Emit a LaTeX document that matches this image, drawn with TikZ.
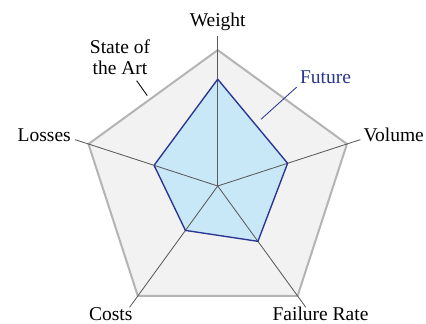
\documentclass[tikz,border=0pt]{standalone}
\usepackage{fontspec}
\setmainfont{Liberation Serif}
\definecolor{artgray}{HTML}{B4B4B4}
\definecolor{artfill}{HTML}{F2F2F2}
\definecolor{axisgray}{HTML}{5A5A5A}
\definecolor{futureblue}{HTML}{2B3592}
\definecolor{futurefill}{HTML}{C8E8F8}

\tikzstyle{artzone} = [draw=artgray, fill=artfill, line width=1.9pt]
\tikzstyle{futurezone} = [draw=futureblue, line width=1.3pt, line join=round]
\tikzstyle{axis} = [draw=axisgray, line width=.8pt]
\tikzstyle{axislabel} = [font=\fontsize{18.5}{19.5}\selectfont, inner sep=0pt,
    anchor=base]

\begin{document}
\begin{tikzpicture}
	\useasboundingbox (-7.257,-4.6) rectangle (6.943,6.2);
	\coordinate (o) at (0,0);
	% state of the art
	\coordinate (aw) at (90:4.53);
	\coordinate (av) at (18:4.53);
	\coordinate (af) at (-54:4.53);
	\coordinate (ac) at (-126:4.53);
	\coordinate (al) at (162:4.53);
	\draw [artzone] (aw) -- (av) -- (af) -- (ac) -- (al) -- cycle;
	% future
	\coordinate (fw) at (90:3.56);
	\coordinate (fv) at (18:2.45);
	\coordinate (ff) at (-54:2.28);
	\coordinate (fc) at (-126:1.83);
	\coordinate (fl) at (162:2.23);
	\fill [futurefill] (fw) -- (fv) -- (ff) -- (fc) -- (fl) -- cycle;
	% axes
	\coordinate (ew) at (90:5);
	\coordinate (ev) at (18:5);
	\coordinate (ef) at (-54:5);
	\coordinate (ec) at (-126:5);
	\coordinate (el) at (162:5);
	\draw [axis] (o) -- (ew);
	\draw [axis] (o) -- (ev);
	\draw [axis] (o) -- (ef);
	\draw [axis] (o) -- (ec);
	\draw [axis] (o) -- (el);
	\draw [futurezone] (fw) -- (fv) -- (ff) -- (fc) -- (fl) -- cycle;
	% labels
	\node [axislabel] (weight) at (0,5.333) {Weight};
	\node [axislabel, anchor=base west] (volume) at (4.853,1.477) {Volume};
	\node [axislabel, anchor=base east] (losses) at (-4.89,1.477) {Losses};
	\node [axislabel] (costs) at (-3.563,-4.5) {Costs};
	\node [axislabel] (failure) at (3.427,-4.5) {Failure Rate};
	\node [axislabel, align=center] (art) at (-3.257,3.723) {State of\\the Art};
	\node [axislabel, text=futureblue] (future) at (3.593,3.423) {Future};
	%
	\coordinate (arta) at (-2.703,3.513);
	\coordinate (artb) at (-2.347,3.01);
	\draw [axis, draw=black] (arta) -- (artb);
	\coordinate (futa) at (2.633,3.297);
	\coordinate (futb) at (1.443,2.223);
	\draw [axis, draw=futureblue] (futa) -- (futb);
\end{tikzpicture}
\end{document}
